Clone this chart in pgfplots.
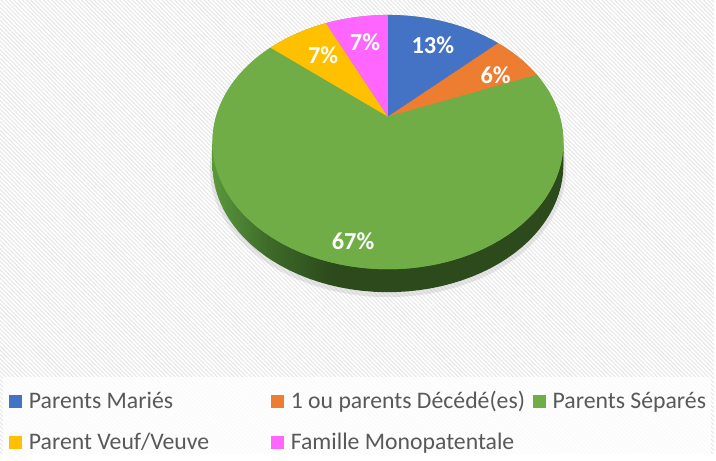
\documentclass[border=0pt]{standalone}
\usepackage{pgfplots}
\pgfplotsset{compat=1.18}
\usepackage{pgfplotstable}
\usepackage{fontspec}
\setmainfont{Carlito}
\usetikzlibrary{patterns.meta}
\definecolor{cBlue}{HTML}{4472C4}
\definecolor{cOrange}{HTML}{ED7D31}
\definecolor{cGreen}{HTML}{70AD47}
\definecolor{cYellow}{HTML}{FFC000}
\definecolor{cPink}{HTML}{FF66FF}
\definecolor{sideL}{HTML}{5A983C}
\definecolor{sideM}{HTML}{3E6A29}
\definecolor{sideD}{HTML}{2C4A1C}
\definecolor{legtext}{HTML}{595959}
\pgfdeclarehorizontalshading{sidegreen}{100bp}{color(0bp)=(sideL); color(25bp)=(sideL); color(33bp)=(sideM); color(42bp)=(sideD); color(100bp)=(sideD)}

\pgfplotstableread{
label value
Maries 13
Decedes 6
Separes 67
Veuf 7
Mono 7
}\piedata

\begin{document}%
\begin{tikzpicture}
\pgfplotstablegetelem{0}{value}\of\piedata \let\vA\pgfplotsretval
\pgfplotstablegetelem{1}{value}\of\piedata \let\vB\pgfplotsretval
\pgfplotstablegetelem{2}{value}\of\piedata \let\vC\pgfplotsretval
\pgfplotstablegetelem{3}{value}\of\piedata \let\vD\pgfplotsretval
\pgfplotstablegetelem{4}{value}\of\piedata \let\vE\pgfplotsretval
\pgfmathsetmacro{\tO}{90}
\pgfmathsetmacro{\tA}{\tO-3.6*\vA}
\pgfmathsetmacro{\tB}{\tA-3.6*\vB}
\pgfmathsetmacro{\tC}{\tB-3.6*\vC}
\pgfmathsetmacro{\tD}{\tC-3.6*\vD}
\pgfmathsetmacro{\tE}{\tD-3.6*\vE}
\begin{axis}[
  scale only axis, width=358pt, height=227.5pt,
  xmin=0, xmax=716, ymin=0, ymax=455,
  hide axis,
  legend columns=3,
  legend cell align=left,
  legend image code/.code={\fill[#1, draw=none] (0pt,-3.2pt) rectangle (6.3pt,3.2pt);},
  legend style={at={(axis cs:3,71)}, anchor=north west, draw=none, fill=none,
    font=\fontsize{11.9}{13}\selectfont, text=legtext,
    row sep=6.5pt,
    /tikz/every even column/.append style={column sep=0pt},
    /tikz/every odd column/.append style={column sep=1.5pt}},
]
% background
\fill[white] (axis cs:0,0) rectangle (axis cs:716,455);
\fill[pattern={Lines[angle=-45, distance=1.5pt, line width=0.55pt]}, pattern color=black!9] (axis cs:0,0) rectangle (axis cs:716,455);
\fill[white, opacity=0.8] (axis cs:3,0) rectangle (axis cs:713,77);
% shadow
\addplot[fill=black!35, draw=none, opacity=0.25, domain=0:360, samples=120, forget plot]
  ({389+175*cos(x)/(1+0.2*sin(x))}, {338-26+124*sin(x)/(1+0.2*sin(x))}) -- cycle;
% side wall (extrusion)
\addplot[shading=sidegreen, draw=none, domain=0:360, samples=120, forget plot]
  ({389+172.4*cos(x)/(1+0.2*sin(x))}, {338-23+122.4*sin(x)/(1+0.2*sin(x))}) -- cycle;
\addplot[shading=sidegreen, draw=none, domain=0:360, samples=120, forget plot]
  ({389+172.4*cos(x)/(1+0.2*sin(x))}, {338-15+122.4*sin(x)/(1+0.2*sin(x))}) -- cycle;
\addplot[shading=sidegreen, draw=none, domain=0:360, samples=120, forget plot]
  ({389+172.4*cos(x)/(1+0.2*sin(x))}, {338-8+122.4*sin(x)/(1+0.2*sin(x))}) -- cycle;
% top face base
\addplot[fill=cGreen, draw=none, domain=0:360, samples=120, forget plot]
  ({389+172.4*cos(x)/(1+0.2*sin(x))}, {338+122.4*sin(x)/(1+0.2*sin(x))}) -- cycle;
% slices
\addplot[fill=cBlue, draw=none, domain=\tA:\tO, samples=40, forget plot]
  ({389+172.4*cos(x)/(1+0.2*sin(x))}, {338+122.4*sin(x)/(1+0.2*sin(x))}) -- (axis cs:389,338) -- cycle;
\addplot[fill=cOrange, draw=none, domain=\tB:\tA, samples=30, forget plot]
  ({389+172.4*cos(x)/(1+0.2*sin(x))}, {338+122.4*sin(x)/(1+0.2*sin(x))}) -- (axis cs:389,338) -- cycle;
\addplot[fill=cGreen, draw=none, domain=\tC:\tB, samples=150, forget plot]
  ({389+172.4*cos(x)/(1+0.2*sin(x))}, {338+122.4*sin(x)/(1+0.2*sin(x))}) -- (axis cs:389,338) -- cycle;
\addplot[fill=cYellow, draw=none, domain=\tD:\tC, samples=30, forget plot]
  ({389+172.4*cos(x)/(1+0.2*sin(x))}, {338+122.4*sin(x)/(1+0.2*sin(x))}) -- (axis cs:389,338) -- cycle;
\addplot[fill=cPink, draw=none, domain=\tE:\tD, samples=30, forget plot]
  ({389+172.4*cos(x)/(1+0.2*sin(x))}, {338+122.4*sin(x)/(1+0.2*sin(x))}) -- (axis cs:389,338) -- cycle;
% labels
\begin{scope}[every node/.style={text=white, font=\bfseries\fontsize{12.2}{13}\selectfont, inner sep=0pt}]
\node at (axis cs:434,410) {13\%};
\node at (axis cs:497,380) {6\%};
\node at (axis cs:354,213) {67\%};
\node at (axis cs:324,400) {7\%};
\node at (axis cs:366,413) {7\%};
\end{scope}
% legend
\addlegendimage{fill=cBlue}
\addlegendentry{\makebox[119.5pt][l]{Parents Mariés}}
\addlegendimage{fill=cOrange}
\addlegendentry{\makebox[119.5pt][l]{1 ou parents Décédé(es)}}
\addlegendimage{fill=cGreen}
\addlegendentry{Parents Séparés}
\addlegendimage{fill=cYellow}
\addlegendentry{\makebox[119.5pt][l]{Parent Veuf/Veuve}}
\addlegendimage{fill=cPink}
\addlegendentry{\makebox[119.5pt][l]{Famille Monopatentale}}
\end{axis}
\end{tikzpicture}%
\end{document}
